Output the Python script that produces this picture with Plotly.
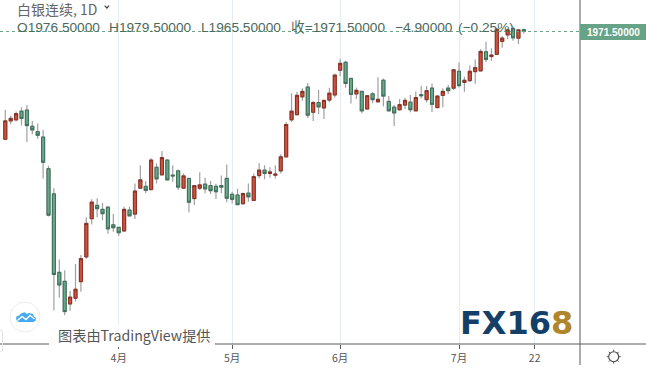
import math
import plotly.graph_objects as go

W, H = 646, 375
PLOT_RIGHT, AXIS_Y = 580, 344

opens = [1672,1723,1726,1750,1753,1708,1693,1678,1590,1520,1302,1277,1214,1230,1276,1345,1451,1488,1477,1483,
         1434,1427,1417,1475,1464,1536,1541,1532,1594,1573,1614,1572,1584,1536,1563,1507,1536,1547,1543,1541,
         1543,1563,1519,1517,1493,1522,1502,1571,1586,1577,1572,1584,1623,1726,1740,1790,1817,1747,1774,1759,
         1781,1795,1864,1886,1841,1798,1805,1756,1798,1776,1836,1777,1761,1754,1767,1775,1751,1796,1782,1814,
         1760,1794,1814,1814,1861,1830,1835,1860,1862,1915,1902,1908,1944,1962,1980,1953,1976.5]
closes = [1723,1730,1743,1730,1710,1698,1683,1608,1461,1296,1267,1193,1233,1255,1340,1438,1497,1479,1465,1423,
          1426,1412,1477,1459,1528,1559,1530,1614,1562,1621,1559,1570,1539,1570,1497,1543,1545,1534,1529,1526,
          1539,1508,1505,1490,1521,1512,1568,1586,1577,1581,1575,1623,1713,1750,1794,1805,1739,1774,1762,1780,
          1800,1850,1883,1827,1797,1808,1751,1793,1782,1783,1792,1751,1745,1768,1780,1754,1788,1793,1807,1769,
          1792,1805,1807,1865,1821,1836,1861,1871,1916,1894,1906,1978,1953,1976,1954,1976,1971.5]
highs = [1753,1737,1749,1761,1767,1723,1716,1698,1598,1536,1338,1308,1250,1325,1350,1455,1505,1508,1495,1486,
         1464,1429,1484,1484,1549,1600,1556,1619,1605,1639,1617,1600,1588,1577,1565,1545,1580,1565,1556,1548,
         1571,1602,1526,1534,1524,1549,1577,1605,1600,1594,1600,1630,1720,1800,1804,1814,1828,1779,1809,1781,
         1815,1855,1896,1890,1842,1816,1807,1795,1803,1844,1841,1792,1767,1784,1787,1795,1805,1821,1820,1827,
         1794,1814,1823,1867,1886,1846,1877,1894,1922,1943,1925,1978,1959,1980,1983,1978,1979.5]
lows = [1671,1714,1721,1710,1664,1686,1673,1563,1457,1196,1231,1183,1195,1221,1248,1340,1435,1455,1447,1409,
        1415,1403,1415,1457,1450,1534,1522,1531,1549,1572,1559,1554,1531,1536,1469,1489,1531,1522,1520,1506,
        1522,1497,1493,1489,1489,1498,1501,1563,1561,1565,1563,1577,1623,1720,1739,1779,1731,1723,1742,1728,
        1775,1787,1848,1815,1771,1784,1744,1755,1772,1775,1764,1750,1709,1751,1756,1747,1750,1786,1774,1748,
        1758,1761,1798,1809,1816,1804,1831,1826,1862,1887,1890,1907,1926,1950,1946,1937,1965.5]
candle_index = list(range(len(opens)))
body_highs = [max(o, c) for o, c in zip(opens, closes)]
body_lows = [min(o, c) for o, c in zip(opens, closes)]
tick_index = [21, 42, 62, 84, 98]
tick_labels = ["4月", "5月", "6月", "7月", "22"]
price_range = [1102.75, 2059.07]
index_range = [-0.98, 106.4]
last_close = 1971.5
ohlc_parts = [("O1976.50000", 15), ("H1979.50000", 107), ("L1965.50000", 199),
              ("收=1971.50000", 289), ("−4.90000", 393), ("(−0.25%)", 456)]

RED, RED_EDGE = "#cb533f", "#8a2c1e"
GREEN, GREEN_EDGE = "#69a68a", "#3a6f57"
WICK = "#a0a0a0"
AXIS = "#5a5a5a"


def px(x):
    return x / W


def py(y):
    return 1 - y / H


def path(points, close=False):
    s = " ".join(("M" if i == 0 else "L") + f" {px(a):.5f} {py(b):.5f}" for i, (a, b) in enumerate(points))
    return s + (" Z" if close else "")


fig = go.Figure()
fig.add_trace(go.Candlestick(
    x=candle_index, open=opens, high=highs, low=lows, close=closes,
    increasing=dict(line=dict(color=WICK, width=1.2), fillcolor=RED),
    decreasing=dict(line=dict(color=WICK, width=1.2), fillcolor=GREEN),
    showlegend=False, hoverinfo="skip"))
fig.add_trace(go.Candlestick(
    x=candle_index, open=opens, high=body_highs, low=body_lows, close=closes,
    increasing=dict(line=dict(color=RED_EDGE, width=1), fillcolor=RED),
    decreasing=dict(line=dict(color=GREEN_EDGE, width=1), fillcolor=GREEN),
    showlegend=False, hoverinfo="skip"))

sun_x, sun_y = 613.7, 356.7
sun_ticks = []
for k in range(8):
    a = k * math.pi / 4
    sun_ticks.append(dict(type="line", xref="paper", yref="paper",
                          x0=px(sun_x + 5 * math.cos(a)), x1=px(sun_x + 7 * math.cos(a)),
                          y0=py(sun_y + 5 * math.sin(a)), y1=py(sun_y + 7 * math.sin(a)),
                          line=dict(color="#555555", width=1)))

shapes = [
    dict(type="line", xref="paper", yref="y", x0=0, x1=px(PLOT_RIGHT), y0=last_close, y1=last_close,
         line=dict(color="#6aa588", width=1, dash="dot")),
    dict(type="line", xref="paper", yref="paper", x0=0, x1=1, y0=py(AXIS_Y), y1=py(AXIS_Y),
         line=dict(color=AXIS, width=1)),
    dict(type="line", xref="paper", yref="paper", x0=px(PLOT_RIGHT), x1=px(PLOT_RIGHT), y0=1, y1=py(365),
         line=dict(color=AXIS, width=1)),
    dict(type="rect", xref="paper", yref="paper", x0=px(PLOT_RIGHT), x1=1, y0=py(24), y1=py(40),
         fillcolor="#67a386", line=dict(width=0)),
    dict(type="rect", xref="paper", yref="paper", x0=px(49), x1=px(215), y0=py(325), y1=py(347),
         fillcolor="white", line=dict(width=0)),
    dict(type="circle", xref="paper", yref="paper", x0=px(10), x1=px(40), y0=py(302), y1=py(332),
         fillcolor="white", line=dict(color="#ececec", width=1)),
    dict(type="path", xref="paper", yref="paper",
         path=path([(16, 319), (16.5, 316.5), (19, 315.5), (21, 313.5), (24.5, 312.3), (27, 314), (29, 313),
                    (33, 314), (34, 316.5), (36, 318), (35.5, 321), (33, 322), (19, 322), (17, 321)], close=True),
         fillcolor="#45a9f2", line=dict(width=0)),
    dict(type="path", xref="paper", yref="paper",
         path=path([(17.5, 320.5), (22, 316.5), (26, 319.5), (30, 315.5), (34.5, 319)]),
         line=dict(color="white", width=1.4)),
    dict(type="path", xref="paper", yref="paper",
         path=path([(104.7, 5.6), (106.9, 8), (109.1, 5.6)]),
         line=dict(color="#444444", width=1.2)),
    dict(type="path", xref="paper", yref="paper",
         path=path([(0, 330), (2.5, 331), (2.5, 351), (0, 352)]),
         line=dict(color="#e4e4e4", width=1)),
    dict(type="circle", xref="paper", yref="paper", x0=px(sun_x - 5), x1=px(sun_x + 5),
         y0=py(sun_y - 5), y1=py(sun_y + 5), line=dict(color="#444444", width=1.1)),
] + sun_ticks

annotations = [
    dict(text="白银连续, 1D", x=px(15), y=py(9.5), xanchor="left", yanchor="middle", showarrow=False,
         xref="paper", yref="paper", font=dict(family="Noto Sans CJK SC, Liberation Sans", size=14, color="#666666")),
    dict(text=f"{last_close:.5f}", x=px(613.5), y=py(32), xanchor="center", yanchor="middle", showarrow=False,
         xref="paper", yref="paper", font=dict(family="Liberation Sans", size=10, color="white", weight="bold")),
    dict(text="图表由TradingView提供", x=px(55.5), y=py(335), xanchor="left", yanchor="middle", showarrow=False,
         xref="paper", yref="paper", font=dict(family="Noto Sans CJK SC, Liberation Sans", size=14.2, color="#555555")),
    dict(text='FX16<span style="color:#b0862c">8</span>', x=px(516), y=py(322.5), xanchor="center", yanchor="middle",
         showarrow=False, xref="paper", yref="paper",
         font=dict(family="DejaVu Sans", size=32, color="#133f68", weight="bold")),
]
for label, left in ohlc_parts:
    annotations.append(dict(text=label, x=px(left), y=py(28), xanchor="left", yanchor="middle", showarrow=False,
                            xref="paper", yref="paper",
                            font=dict(family="Liberation Sans, Noto Sans CJK SC", size=13.7, color="#4c6a5c")))

fig.update_layout(
    width=W, height=H, autosize=False,
    margin=dict(l=0, r=0, t=0, b=0),
    paper_bgcolor="white", plot_bgcolor="white",
    boxgap=0.2, showlegend=False,
    shapes=shapes, annotations=annotations,
    xaxis=dict(domain=[0, PLOT_RIGHT / W], range=index_range, rangeslider=dict(visible=False),
               tickmode="array", tickvals=tick_index, ticktext=tick_labels,
               showgrid=True, gridcolor="#e6edf0", gridwidth=1, zeroline=False, showline=False,
               ticks="outside", ticklen=4, tickcolor=AXIS,
               tickfont=dict(family="Noto Sans CJK SC, Liberation Sans", size=10.5, color="#555555")),
    yaxis=dict(domain=[1 - AXIS_Y / H, 1], range=price_range, showgrid=False, zeroline=False,
               showticklabels=False, ticks=""),
)
fig.write_html("out.html", config=dict(displayModeBar=False),
               post_script="document.body.style.margin='0';document.documentElement.style.overflow='hidden';")
